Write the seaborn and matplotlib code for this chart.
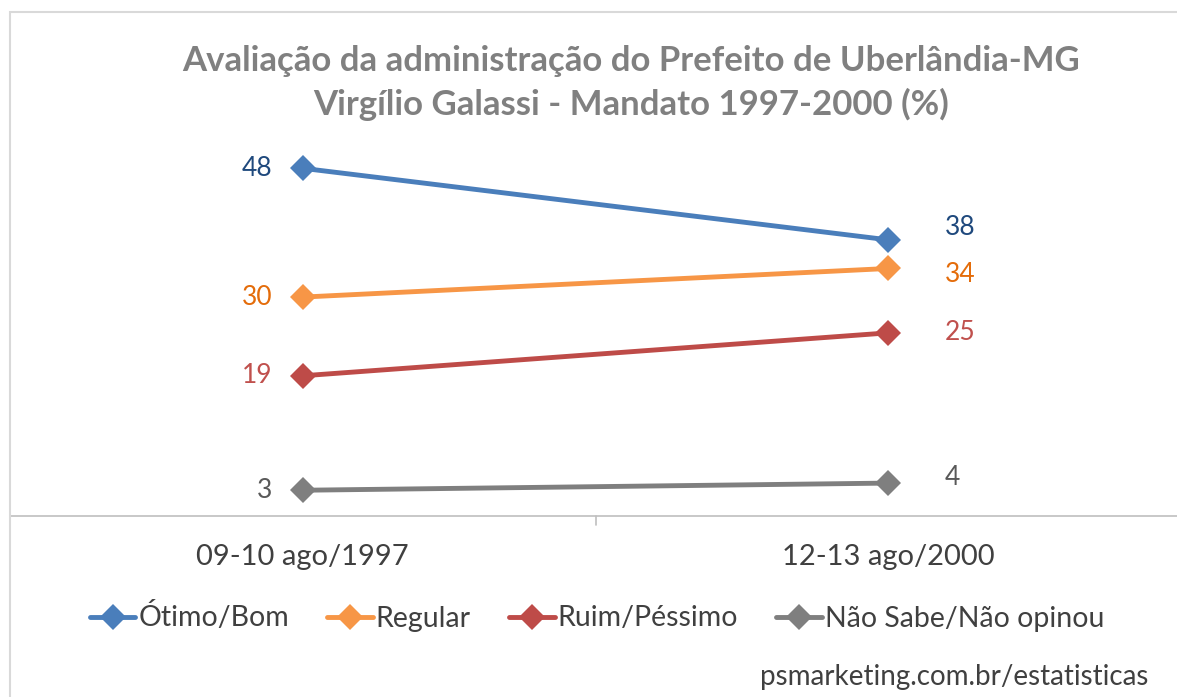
import matplotlib
matplotlib.use("Agg")
import matplotlib.pyplot as plt
import matplotlib.patches as mpatches
import pandas as pd
import seaborn as sns

periods = ["09-10 ago/1997", "12-13 ago/2000"]
series = ["Ótimo/Bom", "Regular", "Ruim/Péssimo", "Não Sabe/Não opinou"]
otimo_bom = [48, 38]
regular = [30, 34]
ruim_pessimo = [19, 25]
nao_sabe = [3, 4]

line_colors = ["#4a7ebb", "#f79646", "#be4b48", "#7f7f7f"]
label_colors = ["#1f497d", "#e46c0a", "#c0504d", "#595959"]
# vertical nudge (points) of the right-hand labels, as Excel placed them
right_nudge = [9, -4, 0, 4]

df = pd.DataFrame({
    "periodo": periods * 4,
    "serie": [s for s in series for _ in periods],
    "valor": otimo_bom + regular + ruim_pessimo + nao_sabe,
})

sns.set_style("white")
plt.rcParams["font.family"] = ["Lato", "DejaVu Sans"]

fig = plt.figure(figsize=(11.77, 6.97), dpi=100)
# chart area border (light gray, open to right/bottom)
fig.patches.append(mpatches.Rectangle((10 / 1177, -0.1), 1.2, (697 - 12) / 697 + 0.1,
                                      transform=fig.transFigure, fill=False,
                                      edgecolor="#d9d9d9", linewidth=1.5))

ax = fig.add_axes([10 / 1177, 181 / 697, 1171 / 1177, 362 / 697])
sns.lineplot(data=df, x="periodo", y="valor", hue="serie", palette=line_colors,
             marker="D", markersize=13, markeredgewidth=0, linewidth=3.5,
             sort=False, ax=ax)

ax.set_xlim(-0.5, 1.5)
ax.set_ylim(-0.6, 50)
ax.set_xlabel("")
ax.set_ylabel("")
ax.set_yticks([])
ax.set_xticks([0, 1])
ax.set_xticklabels(periods, fontsize=21, color="#404040")
ax.tick_params(axis="x", length=0, pad=20)
for x in [-0.5, 0.5, 1.5]:
    ax.plot([x, x], [-0.6, -1.8], color="#bfbfbf", linewidth=1.2, clip_on=False)
for side in ["top", "right", "left"]:
    ax.spines[side].set_visible(False)
ax.spines["bottom"].set_color("#bfbfbf")
ax.spines["bottom"].set_linewidth(1.2)

values = [otimo_bom, regular, ruim_pessimo, nao_sabe]
for vals, c, dy in zip(values, label_colors, right_nudge):
    ax.annotate(str(vals[0]), (0, vals[0]), xytext=(-22, 0), textcoords="offset points",
                ha="right", va="center", fontsize=19, color=c)
    ax.annotate(str(vals[1]), (1, vals[1]), xytext=(41, dy), textcoords="offset points",
                ha="left", va="center", fontsize=19, color=c)

handles, labels = ax.get_legend_handles_labels()
ax.legend(handles, labels, loc="center", bbox_to_anchor=(597 / 1177, 1 - 617 / 697),
          bbox_transform=fig.transFigure, ncol=4, frameon=False, fontsize=20.5,
          handlelength=1.6, handletextpad=0.1, columnspacing=1.35,
          labelcolor="#404040")

fig.text(631 / 1177, 1 - 61 / 697, "Avaliação da administração do Prefeito de Uberlândia-MG",
         ha="center", va="center", fontsize=25, fontweight="bold", color="#808080")
fig.text(631 / 1177, 1 - 104 / 697, "Virgílio Galassi - Mandato 1997-2000 (%)",
         ha="center", va="center", fontsize=25, fontweight="bold", color="#808080")
fig.text(1148 / 1177, 1 - 677 / 697, "psmarketing.com.br/estatisticas",
         ha="right", va="center", fontsize=20, color="#404040")

fig.savefig("out.png", dpi=100)
